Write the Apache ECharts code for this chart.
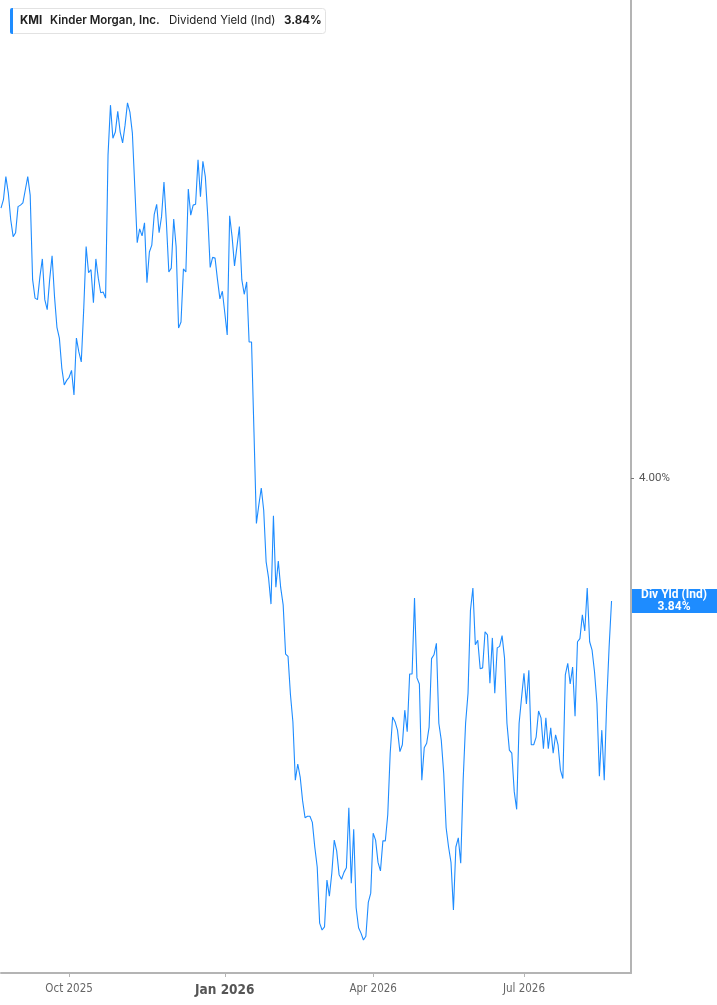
<!DOCTYPE html>
<html><head><meta charset="utf-8">
<script src="https://cdn.jsdelivr.net/npm/echarts@6/dist/echarts.min.js"></script>
<style>html,body{margin:0;padding:0;background:#fff}#c{width:717px;height:1005px}</style>
</head><body><div id="c"></div>
<script>
// ---- data ----
const startDate = '2025-08-21';
const marketHolidays = ['2025-09-01','2025-11-27','2025-12-25','2026-01-01','2026-01-19','2026-02-16','2026-04-03','2026-05-25','2026-06-19','2026-07-03','2026-09-07'];
const categoryCount = 260;
const quarterMonths = [0, 3, 6, 9];
const monthNames = ['Jan','Feb','Mar','Apr','May','Jun','Jul','Aug','Sep','Oct','Nov','Dec'];
const yieldValues = [
4.351,4.362,4.392,4.371,4.336,4.314,4.319,4.353,4.355,4.358,
4.375,4.392,4.368,4.258,4.234,4.232,4.262,4.285,4.232,4.219,
4.258,4.289,4.236,4.196,4.182,4.143,4.121,4.127,4.131,4.140,
4.108,4.182,4.164,4.151,4.219,4.301,4.267,4.271,4.228,4.285,
4.260,4.241,4.242,4.234,4.420,4.485,4.442,4.450,4.477,4.450,
4.436,4.459,4.488,4.476,4.449,4.379,4.306,4.324,4.315,4.332,
4.254,4.294,4.303,4.343,4.356,4.319,4.340,4.385,4.332,4.268,
4.273,4.337,4.301,4.195,4.203,4.272,4.268,4.376,4.342,4.355,
4.356,4.414,4.366,4.412,4.392,4.341,4.274,4.287,4.286,4.258,
4.233,4.243,4.215,4.186,4.341,4.314,4.276,4.301,4.327,4.258,
4.239,4.255,4.177,4.177,4.060,3.941,3.965,3.987,3.958,3.891,
3.870,3.836,3.951,3.858,3.892,3.857,3.835,3.771,3.768,3.718,
3.683,3.607,3.628,3.611,3.580,3.558,3.560,3.560,3.552,3.520,
3.494,3.421,3.412,3.416,3.477,3.456,3.486,3.529,3.515,3.484,
3.478,3.487,3.493,3.571,3.473,3.543,3.441,3.415,3.408,3.399,
3.404,3.448,3.460,3.538,3.529,3.500,3.489,3.528,3.528,3.562,
3.642,3.689,3.683,3.672,3.644,3.653,3.698,3.670,3.745,3.745,
3.844,3.740,3.732,3.607,3.649,3.655,3.676,3.765,3.770,3.785,
3.681,3.659,3.616,3.545,3.520,3.500,3.438,3.520,3.532,3.499,
3.607,3.681,3.720,3.828,3.857,3.783,3.789,3.752,3.753,3.800,
3.796,3.733,3.792,3.720,3.779,3.781,3.795,3.766,3.681,3.646,
3.642,3.592,3.569,3.681,3.714,3.746,3.706,3.750,3.653,3.653,
3.663,3.697,3.688,3.648,3.688,3.648,3.675,3.642,3.666,3.653,
3.620,3.609,3.744,3.759,3.732,3.754,3.690,3.787,3.791,3.822,
3.801,3.857,3.787,3.776,3.748,3.707,3.612,3.672,3.607,3.707,
3.780,3.840
];
const yTickValues = [4.0];
const yMin = 3.3561, yMax = 4.6218;
const ticker = 'KMI', company = 'Kinder Morgan, Inc.', metric = 'Dividend Yield (Ind)', lastText = '3.84%';
const badgeTitle = 'Div Yld (Ind)';

// ---- build trading-day categories ----
function isoDay(d){ return d.toISOString().slice(0,10); }
function tradingDays(start, n, hol){
  const out = []; const d = new Date(start + 'T00:00:00Z'); const hs = new Set(hol);
  while (out.length < n){
    const wd = d.getUTCDay(); const s = isoDay(d);
    if (wd !== 0 && wd !== 6 && !hs.has(s)) out.push(s);
    d.setUTCDate(d.getUTCDate() + 1);
  }
  return out;
}
const dates = tradingDays(startDate, categoryCount, marketHolidays);
const quarterIdx = new Set();
dates.forEach((s, i) => {
  const m = +s.slice(5,7) - 1;
  if (i > 0 && s.slice(5,7) !== dates[i-1].slice(5,7) && quarterMonths.includes(m)) quarterIdx.add(i);
});
const showTick = (i) => quarterIdx.has(i);

const chart = echarts.init(document.getElementById('c'), null, {renderer:'canvas'});
const axisGray = '#b4b4b4';
const narrow = '"Liberation Sans Narrow","DejaVu Sans Condensed","Roboto",sans-serif';
chart.setOption({
  animation: false,
  backgroundColor: '#ffffff',
  grid: {left: 1, right: 86, top: 0, bottom: 32, containLabel: false},
  xAxis: {
    type: 'category', data: dates, boundaryGap: false,
    axisLine: {show: true, lineStyle: {color: axisGray, width: 2}},
    axisTick: {show: true, interval: (i) => showTick(i), length: 4, lineStyle: {color: axisGray, width: 1}},
    axisLabel: {
      interval: (i) => showTick(i), margin: 10, color: '#666', fontSize: 11.5, fontFamily: narrow,
      formatter: (v) => {
        const m = +v.slice(5,7) - 1, y = v.slice(0,4);
        const t = monthNames[m] + ' ' + y;
        return m === 0 ? '{b|' + t + '}' : t;
      },
      rich: {b: {fontWeight: 'bold', fontSize: 13.5, color: '#555', fontFamily: narrow}}
    },
    splitLine: {show: false}
  },
  yAxis: {
    type: 'value', position: 'right', min: yMin, max: yMax, scale: true,
    axisLine: {show: true, lineStyle: {color: axisGray, width: 2}},
    axisTick: {show: true, customValues: yTickValues, length: 3, lineStyle: {color: '#777', width: 1}},
    axisLabel: {customValues: yTickValues, margin: 8, color: '#555', fontSize: 11.5, fontFamily: 'Roboto, sans-serif',
      formatter: (v) => v.toFixed(2) + '%'},
    splitLine: {show: false}
  },
  series: [{
    type: 'line', data: yieldValues, showSymbol: false, symbol: 'none',
    lineStyle: {color: '#1e8cff', width: 1.1}, clip: true
  }]
});

// header legend + last-value badge
const lastIdx = yieldValues.length - 1;
const lastPx = chart.convertToPixel({seriesIndex: 0}, [lastIdx, yieldValues[lastIdx]]);
const axisX = chart.convertToPixel({xAxisIndex: 0}, categoryCount - 1);
const hdrFont = 'Inter, "Noto Sans", sans-serif';
chart.setOption({
  graphic: [
    {type: 'rect', shape: {x: 10.5, y: 8.5, width: 315, height: 25, r: 3}, style: {fill: '#fff', stroke: '#e2e2e2', lineWidth: 1}, z: 10},
    {type: 'rect', shape: {x: 10, y: 8, width: 3, height: 26, r: [2,0,0,2]}, style: {fill: '#1e8cff'}, z: 11},
    {type: 'text', x: 20, y: 21, style: {text: ticker, font: 'bold 11.5px ' + hdrFont, fill: '#222', textVerticalAlign: 'middle'}, z: 11},
    {type: 'text', x: 50, y: 21, style: {text: company, font: '600 11.5px ' + hdrFont, fill: '#222', textVerticalAlign: 'middle'}, z: 11},
    {type: 'text', x: 169, y: 21, style: {text: metric, font: '11.5px ' + hdrFont, fill: '#222', textVerticalAlign: 'middle'}, z: 11},
    {type: 'text', x: 284, y: 21, style: {text: lastText, font: 'bold 11.5px ' + hdrFont, fill: '#222', textVerticalAlign: 'middle'}, z: 11},
    {type: 'rect', shape: {x: axisX + 1, y: lastPx[1] - 12, width: 717 - axisX, height: 24}, style: {fill: '#1e8cff'}, z: 12},
    {type: 'text', x: axisX + 43, y: lastPx[1] - 6, style: {text: badgeTitle, font: 'bold 12px Roboto, sans-serif', fill: '#fff', textAlign: 'center', textVerticalAlign: 'middle'}, z: 13},
    {type: 'text', x: axisX + 43, y: lastPx[1] + 5.5, style: {text: lastText, font: 'bold 12px Roboto, sans-serif', fill: '#fff', textAlign: 'center', textVerticalAlign: 'middle'}, z: 13}
  ]
});
</script>
</body></html>
